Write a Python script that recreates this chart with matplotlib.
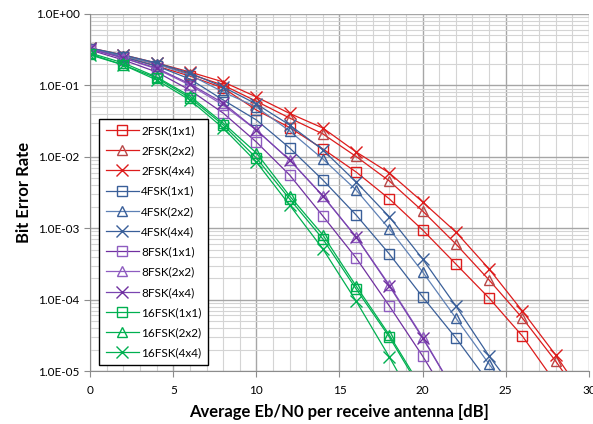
import numpy as np
import matplotlib.pyplot as plt
from matplotlib.ticker import FixedLocator, FuncFormatter

plt.rcParams['font.family'] = ['Lato', 'DejaVu Sans']

# Eb/N0 points (dB), one marker every 2 dB
snr = [0, 2, 4, 6, 8, 10, 12, 14, 16, 18, 20, 22, 24, 26, 28, 30]

# BER values (last point of each curve falls below 1e-5)
ber_2fsk_1x1 = [0.324, 0.250, 0.187, 0.135, 0.092, 0.0452, 0.0257, 0.0129, 0.00612, 0.00257,
                0.000944, 0.000315, 0.000105, 0.0000309, 0.0000068]
ber_2fsk_2x2 = [0.324, 0.258, 0.200, 0.144, 0.101, 0.0599, 0.0349, 0.0209, 0.0101, 0.00458,
                0.00174, 0.000601, 0.000188, 0.0000552, 0.0000138, 0.0000030]
ber_2fsk_4x4 = [0.334, 0.267, 0.206, 0.154, 0.112, 0.0690, 0.0405, 0.0253, 0.0117, 0.00593,
                0.00233, 0.000885, 0.000268, 0.0000692, 0.0000168, 0.0000035]
ber_4fsk_1x1 = [0.324, 0.250, 0.187, 0.123, 0.0625, 0.0328, 0.0133, 0.00473, 0.00153, 0.000435,
                0.000109, 0.0000290, 0.0000068]
ber_4fsk_2x2 = [0.334, 0.258, 0.200, 0.140, 0.081, 0.0498, 0.0230, 0.00931, 0.00343, 0.000975,
                0.000244, 0.0000552, 0.0000125, 0.0000030]
ber_4fsk_4x4 = [0.334, 0.267, 0.206, 0.149, 0.095, 0.0549, 0.0279, 0.0125, 0.00444, 0.00144,
                0.000371, 0.0000813, 0.0000162, 0.0000039]
ber_8fsk_1x1 = [0.313, 0.227, 0.154, 0.086, 0.0410, 0.0161, 0.00556, 0.00148, 0.000383, 0.0000813,
                0.0000162, 0.0000028]
ber_8fsk_2x2 = [0.324, 0.242, 0.170, 0.101, 0.0532, 0.0237, 0.00902, 0.00283, 0.000753, 0.000160,
                0.0000299, 0.0000048]
ber_8fsk_4x4 = [0.324, 0.242, 0.175, 0.105, 0.0567, 0.0237, 0.00902, 0.00283, 0.000753, 0.000155,
                0.0000290, 0.0000048]
ber_16fsk_1x1 = [0.275, 0.193, 0.127, 0.067, 0.0279, 0.00962, 0.00257, 0.000706, 0.000141,
                 0.0000299, 0.0000050]
ber_16fsk_2x2 = [0.284, 0.206, 0.131, 0.071, 0.0297, 0.0113, 0.00283, 0.000803, 0.000155,
                 0.0000319, 0.0000055]
ber_16fsk_4x4 = [0.267, 0.193, 0.119, 0.0625, 0.0253, 0.00846, 0.00211, 0.000512, 0.0000955,
                 0.0000157, 0.0000023]

labels = ['2FSK(1x1)', '2FSK(2x2)', '2FSK(4x4)', '4FSK(1x1)', '4FSK(2x2)', '4FSK(4x4)',
          '8FSK(1x1)', '8FSK(2x2)', '8FSK(4x4)', '16FSK(1x1)', '16FSK(2x2)', '16FSK(4x4)']
series = [ber_2fsk_1x1, ber_2fsk_2x2, ber_2fsk_4x4, ber_4fsk_1x1, ber_4fsk_2x2, ber_4fsk_4x4,
          ber_8fsk_1x1, ber_8fsk_2x2, ber_8fsk_4x4, ber_16fsk_1x1, ber_16fsk_2x2, ber_16fsk_4x4]

line_colors = ['#DD1C1C', '#DD1C1C', '#DD1C1C',
               '#3A5F99', '#5E80B5', '#3A5F99',
               '#7030A0', '#8E5CC0', '#7A45B0',
               '#00B050', '#00B050', '#00B050']
marker_colors = ['#DD1C1C', '#B84848', '#DD1C1C',
                 '#3A5F99', '#3A5F99', '#3A5F99',
                 '#8E5CC0', '#8E5CC0', '#7030A0',
                 '#00B050', '#00B050', '#00B050']
markers = ['s', '^', 'x'] * 4

fig = plt.figure(figsize=(5.93, 4.24), dpi=100)
ax = fig.add_axes([0.152, 0.125, 0.841, 0.842])

for lab, ber, lc, mc, mk in zip(labels, series, line_colors, marker_colors, markers):
    x = snr[:len(ber)]
    ax.plot(x, ber, color=lc, lw=0.9, marker=mk, markersize=7 if mk != 'x' else 8,
            markerfacecolor='none', markeredgecolor=mc, markeredgewidth=1.0, label=lab)

ax.set_yscale('log')
ax.set_xlim(0, 30)
ax.set_ylim(1e-5, 1)
ax.set_xticks([0, 5, 10, 15, 20, 25, 30])
ax.xaxis.set_minor_locator(FixedLocator(np.arange(0, 31, 1)))
ax.yaxis.set_major_formatter(FuncFormatter(lambda v, p: '1.0E%+03d' % round(np.log10(v))))
ax.yaxis.set_minor_formatter(FuncFormatter(lambda v, p: ''))

ax.grid(which='major', color='#A6A6A6', lw=1.0)
ax.grid(which='minor', color='#D4D4D4', lw=0.8)
ax.set_axisbelow(True)
for s in ['top', 'right']:
    ax.spines[s].set_visible(False)
for s in ['left', 'bottom']:
    ax.spines[s].set_color('#8C8C8C')
ax.tick_params(which='both', colors='#8C8C8C', labelcolor='black', labelsize=8.5, length=4)
ax.tick_params(which='minor', length=0)
ax.tick_params(axis='x', pad=6)

ax.set_xlabel('Average Eb/N0 per receive antenna [dB]', fontsize=12, fontweight='bold', labelpad=6)
ax.set_ylabel('Bit Error Rate', fontsize=12, fontweight='bold', labelpad=3)

leg = ax.legend(loc='lower left', bbox_to_anchor=(0.018, 0.017), borderaxespad=0,
                fontsize=8.5, frameon=True, fancybox=False, edgecolor='black', framealpha=1,
                labelspacing=0.78, handlelength=2.8, handletextpad=0.2, borderpad=0.55)
leg.get_frame().set_linewidth(1.0)

fig.savefig('out.png', dpi=100)
